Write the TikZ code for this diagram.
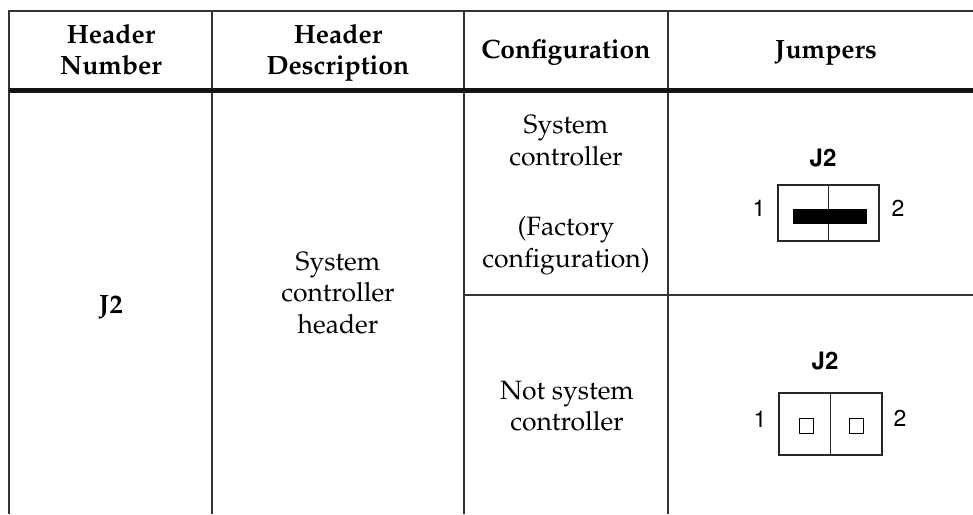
\documentclass[tikz,border=0pt]{standalone}
\usepackage[T1]{fontenc}
\usepackage{mathpazo}
\usepackage{helvet}
\tikzset{
  tline/.style={line width=1.4pt, draw=black!80},
  hrule/.style={line width=4.5pt, draw=black!92},
  jbox/.style={line width=1.1pt, draw=black!85},
  hd/.style={font=\fontsize{26.5}{31}\selectfont\bfseries, anchor=base, inner sep=0pt},
  bd/.style={font=\fontsize{26.5}{31}\selectfont, anchor=base, inner sep=0pt},
  jl/.style={font=\fontfamily{phv}\fontsize{24}{28}\selectfont\bfseries, anchor=base, inner sep=0pt},
  pn/.style={font=\fontfamily{phv}\fontsize{23}{28}\selectfont, anchor=base, inner sep=0pt}
}
\begin{document}
\begin{tikzpicture}[x=1pt,y=-1pt]
\useasboundingbox (0,0) rectangle (973,514);
% table rules
\draw[tline] (973,11) -- (9,11) -- (9,514);
\foreach \x in {212,464,668} \draw[tline] (\x,11) -- (\x,514);
\draw[hrule] (9,90.5) -- (973,90.5);
\draw[tline] (464,295) -- (973,295);
% header row
\node[hd] (hn1) at (111,43) {Header};
\node[hd] (hn2) at (111,74) {Number};
\node[hd] (hd1) at (338,43) {Header};
\node[hd] (hd2) at (338,74) {Description};
\node[hd] (hc) at (566,58) {Configuration};
\node[hd] (hj) at (826,58) {Jumpers};
% body
\node[hd] (num) at (111,313) {J2};
\node[bd] (ds1) at (338,270) {System};
\node[bd] (ds2) at (338,301) {controller};
\node[bd] (ds3) at (338,333) {header};
\node[bd] (ca1) at (566,133) {System};
\node[bd] (ca2) at (566,165) {controller};
\node[bd] (ca3) at (566,235) {(Factory};
\node[bd] (ca4) at (566,267) {configuration)};
\node[bd] (cb1) at (567,399) {Not system};
\node[bd] (cb2) at (567,430) {controller};
% jumper 1
\node[jl] (ja) at (823,166) {J2};
\node[pn] (ja1) at (759,216) {1};
\node[pn] (ja2) at (898,216) {2};
\draw[jbox] (778,185) rectangle (879,241);
\draw[jbox] (828.5,185) -- (828.5,241);
\fill[black] (793,209) rectangle (867,224);
% jumper 2
\node[jl] (jb) at (825,369) {J2};
\node[pn] (jb1) at (760,427) {1};
\node[pn] (jb2) at (900,426) {2};
\draw[jbox] (779,393) rectangle (882,455);
\draw[jbox] (830.5,393) -- (830.5,455);
\draw[line width=0.9pt] (799,418) rectangle (813,433);
\draw[line width=0.9pt] (849,418) rectangle (863,433);
\end{tikzpicture}
\end{document}
